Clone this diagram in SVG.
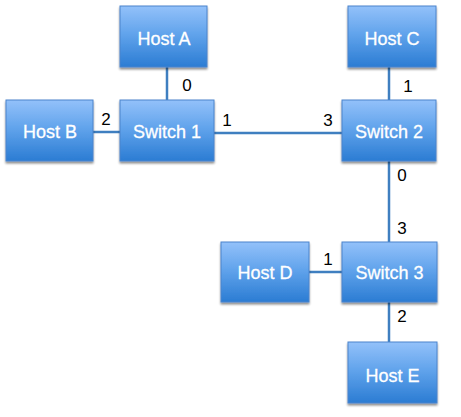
<svg xmlns="http://www.w3.org/2000/svg" width="461" height="417" viewBox="0 0 461 417">
<defs>
<linearGradient id="g" x1="0" y1="0" x2="0" y2="1">
<stop offset="0" stop-color="#93c1fa"/>
<stop offset="0.45" stop-color="#62a4ec"/>
<stop offset="1" stop-color="#2b7cd3"/>
</linearGradient>
<filter id="sh" x="-10%" y="-10%" width="130%" height="130%">
<feGaussianBlur in="SourceAlpha" stdDeviation="1.2"/>
<feOffset dx="0" dy="2" result="b"/>
<feComponentTransfer><feFuncA type="linear" slope="0.45"/></feComponentTransfer>
<feMerge><feMergeNode/><feMergeNode in="SourceGraphic"/></feMerge>
</filter>
</defs>
<style>
.box{fill:url(#g);stroke:#4a84cc;stroke-width:1;filter:url(#sh)}
.lbl{font-family:"Liberation Sans",Arial,sans-serif;font-size:18px;fill:#ffffff;stroke:#ffffff;stroke-width:0.3;text-anchor:middle}
.port{font-family:"Liberation Sans",Arial,sans-serif;font-size:17px;fill:#000000;text-anchor:middle}
.ln{stroke:#3f7fc0;stroke-width:2.5;fill:none}
</style>
<g id="connectors">
<line class="ln" x1="167" y1="67" x2="167" y2="100"/>
<line class="ln" x1="93" y1="132" x2="120" y2="132"/>
<line class="ln" x1="214" y1="133" x2="342" y2="133"/>
<line class="ln" x1="389" y1="67" x2="389" y2="100"/>
<line class="ln" x1="389" y1="161" x2="389" y2="242"/>
<line class="ln" x1="309" y1="272" x2="342" y2="272"/>
<line class="ln" x1="389" y1="302" x2="389" y2="342"/>
<text class="port" x="187" y="91">0</text>
<text class="port" x="106" y="125">2</text>
<text class="port" x="227" y="126">1</text>
<text class="port" x="328" y="126">3</text>
<text class="port" x="408" y="92">1</text>
<text class="port" x="402" y="181">0</text>
<text class="port" x="402" y="234">3</text>
<text class="port" x="328" y="265">1</text>
<text class="port" x="402" y="322">2</text>
</g>
<g id="hostA"><rect class="box" x="120" y="6" width="87" height="61"/><text class="lbl" x="164" y="45">Host A</text></g>
<g id="hostB"><rect class="box" x="6" y="100" width="87" height="61"/><text class="lbl" x="50" y="138">Host B</text></g>
<g id="switch1"><rect class="box" x="120" y="100" width="94" height="61"/><text class="lbl" x="167" y="138">Switch 1</text></g>
<g id="hostC"><rect class="box" x="348" y="6" width="88" height="61"/><text class="lbl" x="392" y="45">Host C</text></g>
<g id="switch2"><rect class="box" x="342" y="100" width="94" height="61"/><text class="lbl" x="389" y="138">Switch 2</text></g>
<g id="hostD"><rect class="box" x="221" y="242" width="88" height="60"/><text class="lbl" x="265" y="279">Host D</text></g>
<g id="switch3"><rect class="box" x="342" y="242" width="95" height="60"/><text class="lbl" x="389.5" y="279">Switch 3</text></g>
<g id="hostE"><rect class="box" x="348" y="342" width="89" height="61"/><text class="lbl" x="392.5" y="382">Host E</text></g>
</svg>
